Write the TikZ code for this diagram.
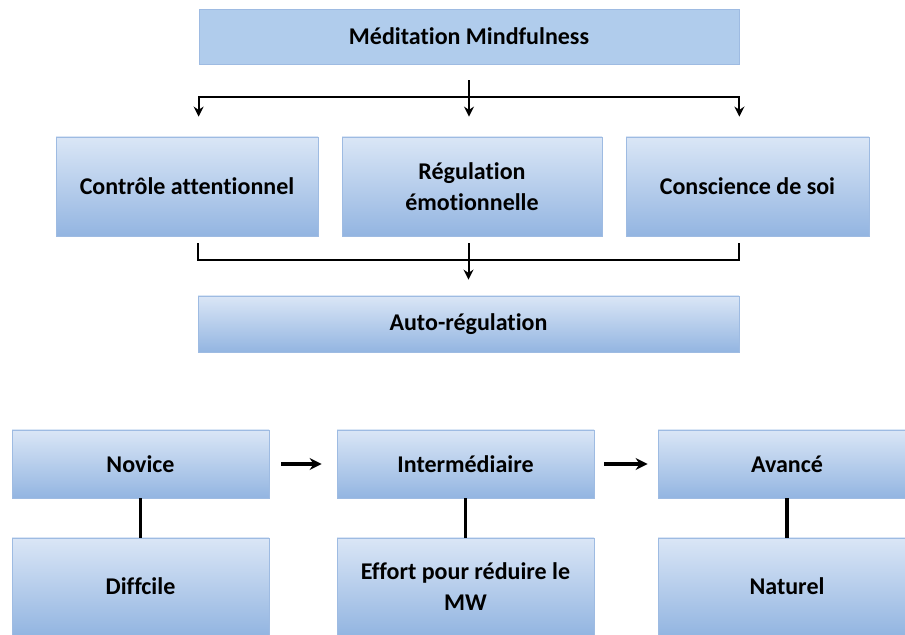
\documentclass[tikz,border=0pt]{standalone}
\usepackage{fontspec}
\setmainfont{Carlito}[Ligatures=NoCommon]
\usepackage{tikz}
\usetikzlibrary{arrows.meta,calc}
\definecolor{boxtop}{RGB}{218,230,246}
\definecolor{boxbot}{RGB}{147,181,225}
\definecolor{boxflat}{RGB}{176,204,236}
\definecolor{boxedge}{RGB}{158,187,226}

\begin{document}
\begin{tikzpicture}[x=0.5pt, y=-0.5pt,
  cell/.style={draw=boxedge, line width=0.4pt, inner sep=0pt, align=center,
    font=\bfseries\fontsize{12}{15.5}\selectfont},
  box/.style={cell, top color=boxtop, bottom color=boxbot},
  flatbox/.style={cell, fill=boxflat},
  link/.style={line width=1pt},
  biglink/.style={line width=1.6pt}]
\useasboundingbox (0,0) rectangle (905,635);
% Top block
\node[flatbox, minimum width=270pt, minimum height=27.5pt] (med) at (469,36.5)
  {Méditation Mindfulness};
\node[box, minimum width=131pt, minimum height=49.5pt] (ctrl) at (187,186.5)
  {Contrôle attentionnel};
\node[box, minimum width=130pt, minimum height=49.5pt] (regul) at (472,186.5)
  {Régulation\\émotionnelle};
\node[box, minimum width=121.5pt, minimum height=49.5pt] (consc) at (747.5,186.5)
  {Conscience de soi};
\node[box, minimum width=270.5pt, minimum height=28pt] (auto) at (468.5,324)
  {Auto-régulation};
% Fan out
\draw[link, -{Stealth[length=5pt,width=5pt]}, shorten <=8pt, shorten >=10pt]
  (med.south) -- (med.south |- regul.north);
\draw[link, {Stealth[length=5pt,width=5pt]}-{Stealth[length=5pt,width=5pt]},
  shorten <=10pt, shorten >=10pt]
  (med.south west |- ctrl.north) |- ($(med.south)+(0,33)$) -| (med.south east |- consc.north);
% Fan in
\draw[link, shorten <=3.5pt, shorten >=3.5pt]
  (auto.north west |- ctrl.south) |- ($(regul.south)+(0,24)$) -| (auto.north east |- consc.south);
\draw[link, -{Stealth[length=5pt,width=5pt]}, shorten <=3.5pt, shorten >=8pt]
  (regul.south -| auto.north) -- (auto.north);
% Levels
\node[box, minimum width=128.5pt, minimum height=34pt] (novice) at (140.5,464) {Novice};
\node[box, minimum width=128.5pt, minimum height=34pt] (inter) at (465.5,464) {Intermédiaire};
\node[box, minimum width=129pt, minimum height=34pt] (avance) at (787,464) {Avancé};
\node[box, minimum width=128.5pt, minimum height=48.5pt] (dif) at (140.5,586.5) {Diffcile};
\node[box, minimum width=128.5pt, minimum height=48.5pt] (effort) at (465.5,586.5)
  {Effort pour réduire le\\MW};
\node[box, minimum width=129pt, minimum height=48.5pt] (nat) at (787,586.5) {Naturel};
% Progression
\draw[biglink, -{Stealth[length=6pt,width=6pt]}, shorten <=6pt, shorten >=7.5pt]
  (novice) -- (inter);
\draw[biglink, -{Stealth[length=6pt,width=6pt]}, shorten <=5pt, shorten >=5pt]
  (inter) -- (avance);
\foreach \lvl/\feel in {novice/dif, inter/effort, avance/nat}
  \draw[biglink] (\lvl) -- (\feel);
\end{tikzpicture}
\end{document}
